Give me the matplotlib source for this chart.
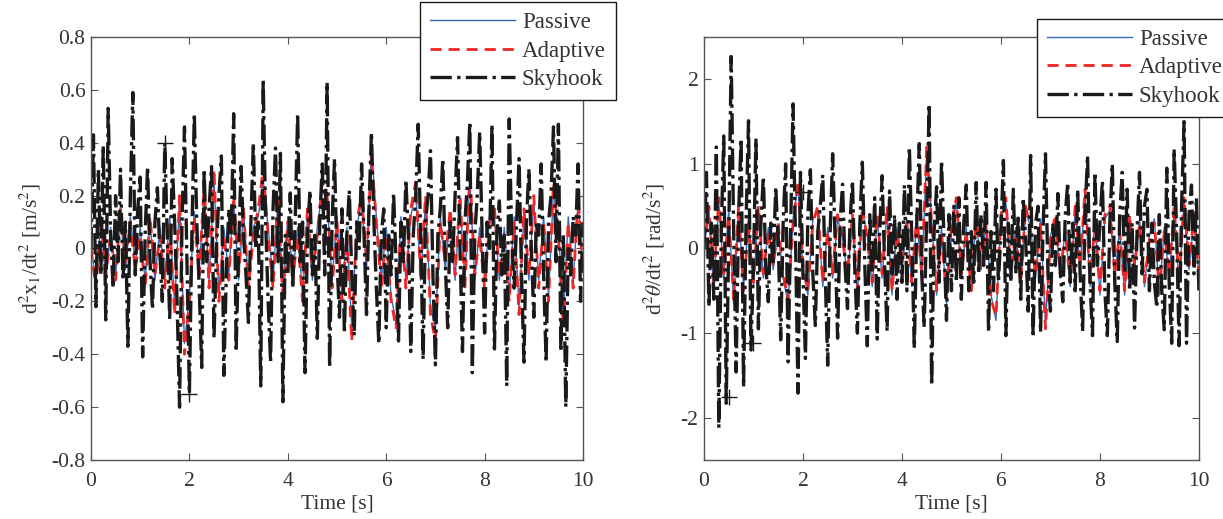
import numpy as np
import matplotlib
matplotlib.use("Agg")
import matplotlib.pyplot as plt

plt.rcParams['font.family'] = ['Liberation Serif', 'DejaVu Serif']
plt.rcParams['mathtext.fontset'] = 'stix'

# ---- data ----
# skyhook sampled every 0.05 s, passive / adaptive every 0.1 s
sky_x1 = [0.0, 0.43, -0.22, 0.30, -0.10, 0.39, -0.27, 0.53, 0.05, -0.15,
          0.20, -0.05, 0.30, -0.12, 0.10, -0.37, 0.20, 0.59, -0.10, 0.15,
          0.27, -0.41, 0.05, 0.31, -0.05, -0.23, 0.10, 0.23, -0.02, -0.20,
          0.40, 0.05, -0.27, 0.34, 0.10, -0.20, -0.60, 0.10, 0.46, -0.05,
          -0.55, 0.05, 0.51, 0.10, -0.15, -0.45, 0.30, -0.05, 0.15, 0.31,
          -0.34, 0.00, 0.20, 0.35, -0.48, -0.10, 0.15, 0.05, 0.51, -0.39,
          0.00, 0.31, 0.05, -0.10, -0.28, 0.10, 0.40, 0.00, 0.10, -0.52,
          0.64, 0.10, -0.20, -0.43, 0.15, 0.38, -0.05, 0.36, -0.58, 0.05,
          -0.10, 0.21, -0.15, 0.10, 0.51, -0.05, 0.10, -0.47, 0.05, 0.22,
          -0.10, 0.05, -0.34, 0.10, 0.32, -0.10, 0.63, -0.45, 0.10, 0.34,
          -0.05, -0.26, 0.15, -0.32, 0.05, 0.22, -0.10, -0.33, 0.10, 0.00,
          0.32, 0.05, -0.25, 0.15, 0.44, 0.10, -0.15, -0.36, 0.05, 0.15,
          -0.30, 0.05, -0.10, 0.21, -0.05, -0.35, 0.10, -0.05, 0.26, 0.05,
          -0.39, 0.05, 0.20, 0.47, 0.05, -0.42, 0.10, 0.20, 0.37, -0.10,
          -0.44, 0.05, 0.15, 0.34, -0.05, -0.30, 0.10, -0.05, 0.20, 0.42,
          0.00, -0.39, 0.10, 0.25, 0.48, -0.47, 0.05, 0.20, 0.44, 0.05,
          -0.32, 0.10, 0.00, 0.47, -0.38, 0.05, 0.18, -0.10, 0.05, -0.52,
          0.49, 0.05, -0.15, 0.10, 0.34, -0.10, -0.43, 0.10, 0.30, 0.00,
          -0.26, 0.10, 0.05, 0.32, -0.10, -0.43, 0.10, 0.20, 0.46, -0.05,
          0.47, -0.39, 0.05, -0.60, 0.00, -0.10, 0.12, 0.05, 0.32, -0.20,
          0.10]
ada_x1 = [0.0, -0.15, 0.12, -0.10, 0.05, -0.12, 0.15, -0.05, 0.10, -0.08,
          0.05, -0.15, 0.12, -0.10, 0.05, -0.15, 0.10, -0.25, 0.20, -0.40,
          -0.20, 0.12, -0.10, 0.25, -0.15, 0.30, -0.20, 0.05, -0.12, 0.20,
          -0.10, 0.15, -0.15, 0.05, 0.15, 0.30, 0.05, -0.15, 0.20, -0.20,
          0.10, -0.12, 0.05, -0.20, 0.15, -0.10, 0.05, 0.25, 0.20, -0.15,
          0.10, -0.20, 0.05, -0.35, 0.10, 0.20, -0.05, 0.35, 0.10, -0.15,
          0.05, -0.20, -0.30, 0.10, -0.15, 0.15, 0.25, -0.10, 0.20, -0.25,
          -0.35, 0.10, -0.05, 0.15, -0.10, 0.20, -0.15, 0.30, -0.10, 0.05,
          -0.15, 0.10, 0.15, -0.10, 0.05, -0.20, 0.10, -0.25, 0.15, -0.10,
          0.20, -0.15, 0.10, -0.20, 0.25, 0.05, -0.30, 0.10, -0.15, 0.20,
          -0.10]
pas_x1 = [0.0, -0.12, 0.10, -0.12, 0.08, -0.10, 0.12, -0.08, 0.12, -0.06,
          0.08, -0.12, 0.10, -0.12, 0.08, -0.12, 0.12, -0.22, 0.18, -0.36,
          -0.18, 0.14, -0.08, 0.22, -0.12, 0.26, -0.18, 0.08, -0.10, 0.18,
          -0.12, 0.14, -0.12, 0.08, 0.12, 0.26, 0.08, -0.12, 0.18, -0.18,
          0.12, -0.10, 0.08, -0.18, 0.12, -0.12, 0.08, 0.22, 0.18, -0.12,
          0.12, -0.18, 0.08, -0.30, 0.08, 0.18, -0.08, 0.38, 0.12, -0.12,
          0.08, -0.18, -0.28, 0.12, -0.12, 0.12, 0.22, -0.12, 0.18, -0.22,
          -0.30, 0.12, -0.08, 0.12, -0.12, 0.18, -0.12, 0.26, -0.12, 0.08,
          -0.12, 0.12, 0.12, -0.12, 0.08, -0.18, 0.12, -0.22, 0.12, -0.12,
          0.18, -0.12, 0.12, -0.18, 0.22, 0.08, -0.26, 0.12, -0.12, 0.18,
          -0.08]

sky_th = [0.0, 0.90, -0.69, 0.30, -0.60, 1.20, -2.12, 0.20, 1.33, -1.83,
          0.10, 2.27, 0.20, -1.46, 0.40, 1.30, -1.64, 0.30, 1.51, -1.20,
          -0.20, 1.30, -0.95, 0.30, 0.85, -0.20, -0.63, 0.30, -0.20, 0.73,
          0.10, -1.08, 0.30, 1.00, -1.34, 0.20, 1.71, 0.10, -1.71, 0.90,
          -0.30, -1.30, 0.40, 0.93, -0.30, -0.91, 0.20, 0.50, 0.87, -0.30,
          -1.38, 0.20, 1.12, 0.10, -1.06, 0.30, 0.76, -0.20, -0.71, 0.30,
          0.80, -0.30, -1.00, 0.30, 1.02, -0.20, -1.15, 0.40, -0.30, 0.60,
          -1.07, 0.20, 0.86, -0.20, -0.98, 0.68, -0.30, 0.40, -0.60, 0.30,
          -0.40, 0.75, -0.50, 1.20, 0.10, -1.18, 0.30, 1.24, -0.30, -0.93,
          0.40, 1.71, -1.62, 0.20, 0.73, -0.40, 1.04, 0.10, -0.85, 0.40,
          -0.50, 0.50, -0.40, 0.60, -0.60, 0.30, 0.75, -0.50, 0.20, -0.40,
          0.78, -0.30, 0.40, -0.20, 0.78, -0.99, 0.20, -0.50, 0.70, -0.40,
          0.20, 1.04, -1.03, 0.30, -0.40, 0.70, -0.30, 0.40, -0.60, 0.60,
          0.10, -0.74, 1.10, -1.05, 0.30, 0.50, -0.99, 0.20, 1.12, -0.30,
          -0.74, 0.30, -0.20, 0.65, -0.30, -0.63, 0.40, 0.78, -0.40, 0.30,
          -0.50, 0.70, -0.30, -0.98, 0.40, 1.10, -0.40, -1.03, 0.90, -0.20,
          0.30, 0.80, -0.50, -1.03, 0.30, 1.00, -0.40, -1.10, 0.40, 0.90,
          -0.30, 0.70, -0.50, 0.30, -0.94, 0.20, 0.90, -0.30, 0.50, 0.70,
          -0.50, 0.30, -0.40, -0.70, 0.40, -0.50, -0.96, 0.95, -0.40, -1.12,
          1.18, 0.20, -1.15, 0.50, 1.50, -1.12, 0.40, 0.75, -0.30, 0.60,
          -0.50]
ada_th = [0.0, 0.50, -0.40, 0.60, -0.30, 0.40, -0.60, 0.50, -0.50, 0.30,
          -0.40, 0.50, -0.30, 0.20, -0.20, 0.30, -0.30, -0.60, 0.30, 0.80,
          -0.20, -0.50, 0.30, 0.50, -0.40, 0.20, -0.30, 0.40, 0.10, -0.30,
          0.40, -0.50, 0.50, 0.10, -0.40, 0.40, -0.30, 0.50, -0.50, 0.20,
          -0.20, 0.30, -0.40, 0.40, -0.30, 1.20, 0.30, -0.50, 0.20, -0.60,
          0.30, 0.60, -0.30, 0.20, -0.50, 0.40, -0.20, 0.30, -0.60, -0.80,
          0.40, 0.60, -0.30, 0.20, -0.40, 0.50, 0.20, -0.30, 0.30, -0.95,
          0.10, 0.40, -0.30, 0.20, -0.40, 0.50, -0.20, 0.70, -0.40, 0.30,
          -0.50, 0.40, 0.50, -0.30, 0.20, -0.50, 0.40, -0.20, 0.30, -0.40,
          0.10, 0.30, -0.50, 0.20, -0.30, 0.50, -0.40, 0.60, -0.20, 0.40,
          -0.30]
pas_th = [0.0, 0.45, -0.45, 0.55, -0.35, 0.45, -0.65, 0.45, -0.45, 0.35,
          -0.45, 0.45, -0.35, 0.25, -0.25, 0.25, -0.35, -0.65, 0.35, 0.75,
          -0.25, -0.55, 0.35, 0.45, -0.45, 0.25, -0.35, 0.35, 0.15, -0.35,
          0.35, -0.55, 0.45, 0.15, -0.45, 0.35, -0.35, 0.45, -0.55, 0.25,
          -0.25, 0.35, -0.45, 0.35, -0.35, 1.15, 0.35, -0.55, 0.25, -0.65,
          0.25, 0.55, -0.35, 0.25, -0.45, 0.35, -0.25, 0.35, -0.55, -0.85,
          0.35, 0.55, -0.35, 0.25, -0.45, 0.45, 0.25, -0.35, 0.35, -0.90,
          0.15, 0.35, -0.35, 0.25, -0.45, 0.45, -0.25, 0.65, -0.45, 0.35,
          -0.55, 0.35, 0.45, -0.35, 0.25, -0.55, 0.35, -0.25, 0.35, -0.45,
          0.15, 0.35, -0.55, 0.25, -0.35, 0.45, -0.45, 0.55, -0.25, 0.35,
          -0.35]

# data-tip crosses
mark_t_x1 = [0.0, 1.5, 2.0]
mark_v_x1 = [0.0, 0.40, -0.55]
mark_t_th = [0.0, 0.5, 1.0, 2.0]
mark_v_th = [0.0, -1.75, -1.12, 0.67]

t_sky = np.linspace(0, 10, len(sky_x1))
t_lo = np.linspace(0, 10, len(ada_x1))

fig = plt.figure(figsize=(12.23, 5.19), dpi=100)
ax1 = fig.add_axes([0.0744, 0.1137, 0.4023, 0.815])
ax2 = fig.add_axes([0.5756, 0.1137, 0.4047, 0.815])

blue = '#3569c0'
red = '#f02525'
axcol = '#555555'
txtcol = '#333333'

panels = [
    (ax1, pas_x1, ada_x1, sky_x1, mark_t_x1, mark_v_x1, (-0.8, 0.8),
     np.arange(-0.8, 0.81, 0.2), r'd$^2$x$_1$/dt$^2$ [m/s$^2$]', 6),
    (ax2, pas_th, ada_th, sky_th, mark_t_th, mark_v_th, (-2.5, 2.5),
     np.arange(-2, 2.1, 1), r'd$^2\theta$/dt$^2$ [rad/s$^2$]', 10),
]

for ax, pas, ada, sky, mt, mv, ylim, yt, ylab, ypad in panels:
    ax.plot(t_lo, pas, color=blue, lw=1.0, label='Passive')
    ax.plot(t_lo, ada, color=red, lw=2.0, ls=(0, (4, 2.5)), label='Adaptive')
    ax.plot(t_sky, sky, color='#1a1a1a', lw=2.4, ls='-.', label='Skyhook')
    ax.plot(mt, mv, ls='none', marker='+', ms=12, mew=1.0, color='#1a1a1a')
    ax.set_xlim(0, 10)
    ax.set_ylim(*ylim)
    ax.set_xticks(np.arange(0, 11, 2))
    ax.set_yticks(yt)
    if ylim[0] == -0.8:
        ax.set_yticklabels(['-0.8', '-0.6', '-0.4', '-0.2', '0', '0.2', '0.4', '0.6', '0.8'])
    else:
        ax.set_yticklabels(['-2', '-1', '0', '1', '2'])
    ax.tick_params(direction='in', top=True, right=True, labelsize=15.5,
                   colors=axcol, labelcolor=txtcol, length=5, width=0.8, pad=4)
    ax.tick_params(axis='x', pad=9)
    for s in ax.spines.values():
        s.set_color(axcol)
        s.set_linewidth(1.0)
    ax.set_xlabel('Time [s]', fontsize=15.5, color=txtcol, labelpad=2)
    ax.set_ylabel(ylab, fontsize=15.5, color=txtcol, labelpad=ypad)

leg_kw = dict(loc='upper left', fontsize=16.5, frameon=True, fancybox=False,
              framealpha=1, edgecolor='#1a1a1a', handlelength=3.7,
              borderpad=0.45, labelspacing=0.32, handletextpad=0.3,
              borderaxespad=0)
l1 = ax1.legend(bbox_to_anchor=(0.3434, 0.996), bbox_transform=fig.transFigure, **leg_kw)
l2 = ax2.legend(bbox_to_anchor=(0.8479, 0.964), bbox_transform=fig.transFigure, **leg_kw)
for l in (l1, l2):
    l.get_frame().set_linewidth(1.0)
    for tx in l.get_texts():
        tx.set_color(txtcol)

fig.savefig('out.png', dpi=100)
